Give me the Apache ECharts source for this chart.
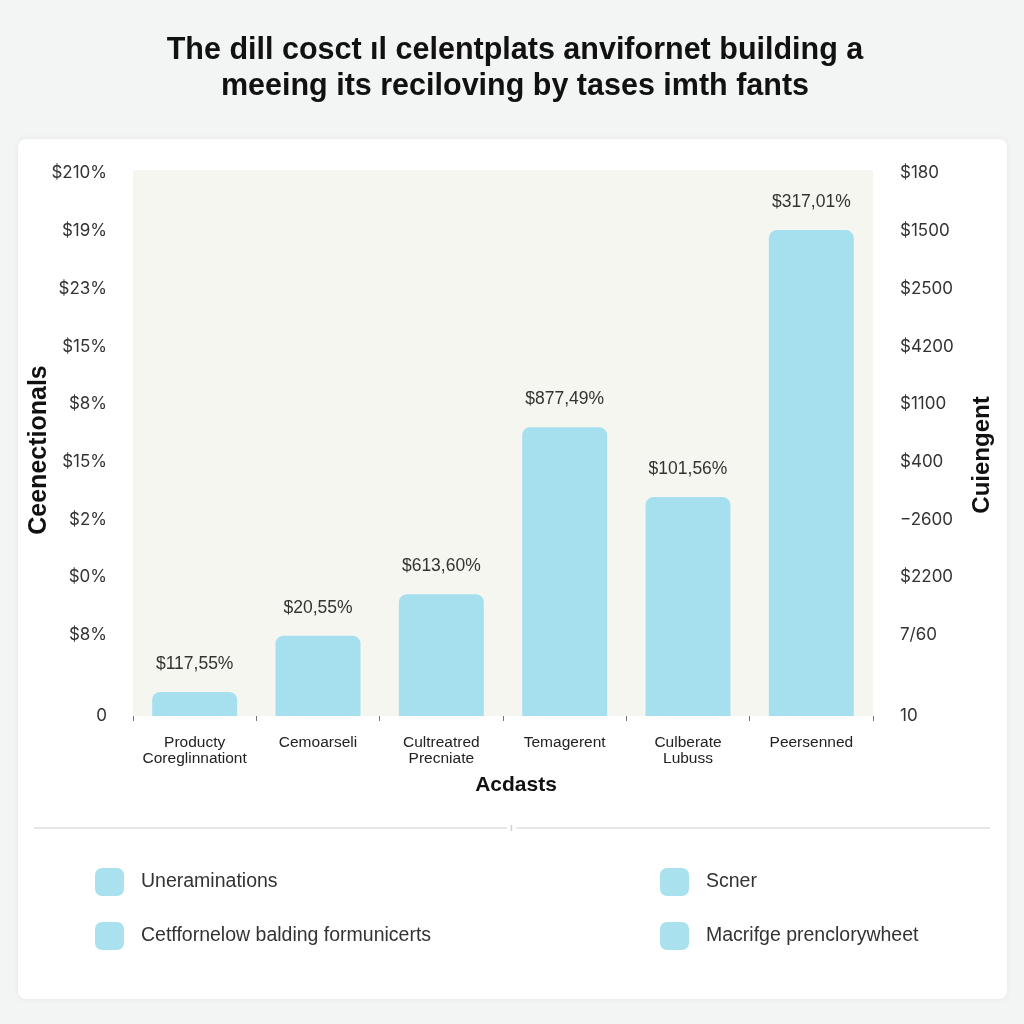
<!DOCTYPE html>
<html>
<head>
<meta charset="utf-8">
<script src="https://cdn.jsdelivr.net/npm/echarts@6/dist/echarts.min.js"></script>
<style>
  html, body { margin: 0; padding: 0; background: #f3f4f4; }
  #chart { width: 1024px; height: 1024px; }
</style>
</head>
<body>
<div id="chart"></div>
<script>
// ---- data ----
const titleText = "The dill cosct ıl celentplats anvifornet building a\nmeeing its reciloving by tases imth fants";
const categories = ["Producty\nCoreglinnationt", "Cemoarseli", "Cultreatred\nPrecniate", "Temagerent", "Culberate\nLubuss", "Peersenned"];
const barValues = [4.4, 14.7, 22.3, 52.9, 40.1, 89.0];           // bar heights, % of axis range
const barLabels = ["$117,55%", "$20,55%", "$613,60%", "$877,49%", "$101,56%", "$317,01%"];
const tickPositions = [0, 14.8, 25.5, 35.9, 46.5, 57.1, 67.6, 78.2, 88.8, 99.45];
const leftTickLabels = ["0", "$8%", "$0%", "$2%", "$15%", "$8%", "$15%", "$23%", "$19%", "$210%"];
const rightTickLabels = ["10", "7/60", "$2200", "\u22122600", "$400", "$1100", "$4200", "$2500", "$1500", "$180"];
const legendLeft = ["Uneraminations", "Cetffornelow balding formunicerts"];
const legendRight = ["Scner", "Macrifge prenclorywheet"];
const xAxisName = "Acdasts";
const leftAxisName = "Ceenectionals";
const rightAxisName = "Cuiengent";

const barColor = "#a6e0ef";
const FONT = "'Liberation Sans', Arial, sans-serif";

function tickLabel(arr) {
  return function (v) {
    for (let i = 0; i < tickPositions.length; i++) {
      if (Math.abs(tickPositions[i] - v) < 1e-6) return arr[i];
    }
    return "";
  };
}

const chart = echarts.init(document.getElementById('chart'), null, { renderer: 'canvas' });

const allNames = legendLeft.concat(legendRight);
const series = allNames.map(function (name, i) {
  return {
    name: name,
    type: 'bar',
    stack: 'all',
    barWidth: 85,
    data: i === 0 ? barValues : [],
    itemStyle: { color: barColor, borderRadius: [8, 8, 0, 0] },
    label: i === 0 ? {
      show: true,
      position: 'top',
      distance: 19,
      fontFamily: FONT,
      fontSize: 17.5,
      color: '#333',
      formatter: function (p) { return barLabels[p.dataIndex]; }
    } : { show: false }
  };
});

const legendBase = {
  orient: 'vertical',
  top: 868,
  padding: 0,
  itemWidth: 29,
  itemHeight: 28,
  itemGap: 26,
  icon: 'roundRect',
  itemStyle: { color: '#a9e1ee' },
  textStyle: { fontFamily: FONT, fontSize: 19.5, color: '#333', padding: [0, 0, 0, 12] },
  selectedMode: false
};

const option = {
  backgroundColor: '#f3f4f4',
  animation: false,
  graphic: [
    {
      type: 'rect', z: -100,
      shape: { x: 18, y: 139, width: 989, height: 860, r: 8 },
      style: { fill: '#ffffff', shadowBlur: 6, shadowColor: 'rgba(0,0,0,0.06)' }
    },
    {
      type: 'line', z: -50,
      shape: { x1: 34, y1: 828, x2: 507, y2: 828 },
      style: { stroke: '#e6e6e6', lineWidth: 2 }
    },
    {
      type: 'line', z: -50,
      shape: { x1: 516, y1: 828, x2: 990, y2: 828 },
      style: { stroke: '#e6e6e6', lineWidth: 2 }
    },
    {
      type: 'line', z: -50,
      shape: { x1: 511.5, y1: 825, x2: 511.5, y2: 831 },
      style: { stroke: '#cfcfcf', lineWidth: 1.5 }
    }
  ],
  title: {
    text: titleText,
    left: 510,
    top: 28,
    textAlign: 'center',
    textStyle: {
      fontFamily: FONT,
      fontSize: 30.5,
      fontWeight: 'bold',
      lineHeight: 36,
      color: '#111'
    }
  },
  legend: [
    Object.assign({}, legendBase, { data: legendLeft, left: 95 }),
    Object.assign({}, legendBase, { data: legendRight, left: 660 })
  ],
  grid: {
    left: 133,
    right: 151,
    top: 170,
    bottom: 308,
    show: true,
    backgroundColor: '#f6f6f0',
    borderWidth: 0
  },
  xAxis: {
    type: 'category',
    data: categories,
    name: xAxisName,
    nameLocation: 'middle',
    nameGap: 59,
    nameTextStyle: { fontFamily: FONT, fontSize: 21, fontWeight: 'bold', color: '#111', padding: [0, 0, 0, 26] },
    axisLine: { show: false },
    axisTick: { show: true, alignWithLabel: false, length: 5, lineStyle: { color: '#777' } },
    axisLabel: {
      fontFamily: FONT, fontSize: 15.5, color: '#222', lineHeight: 16, margin: 19,
      interval: 0
    },
    splitLine: { show: false }
  },
  yAxis: [
    {
      type: 'value',
      min: 0,
      max: 100,
      position: 'left',
      name: leftAxisName,
      nameLocation: 'middle',
      nameRotate: 90,
      nameGap: 81,
      nameMoveOverlap: false,
      nameTextStyle: { fontFamily: FONT, fontSize: 25, fontWeight: 'bold', color: '#111', padding: [0, 14, 0, 0] },
      axisLine: { show: false },
      axisTick: { show: false },
      splitLine: { show: false },
      axisLabel: {
        customValues: tickPositions,
        formatter: tickLabel(leftTickLabels),
        fontFamily: "Inter, 'Liberation Sans', sans-serif",
        fontSize: 17,
        color: '#333',
        margin: 26
      }
    },
    {
      type: 'value',
      min: 0,
      max: 100,
      position: 'right',
      name: rightAxisName,
      nameLocation: 'middle',
      nameRotate: 90,
      nameGap: 97,
      nameMoveOverlap: false,
      nameTextStyle: { fontFamily: FONT, fontSize: 24, fontWeight: 'bold', color: '#111', padding: [0, 24, 0, 0] },
      axisLine: { show: false },
      axisTick: { show: false },
      splitLine: { show: false },
      axisLabel: {
        customValues: tickPositions,
        formatter: tickLabel(rightTickLabels),
        fontFamily: "Inter, 'Liberation Sans', sans-serif",
        fontSize: 17,
        color: '#333',
        margin: 27,
        align: 'left'
      }
    }
  ],
  series: series
};

chart.setOption(option);
</script>
</body>
</html>
